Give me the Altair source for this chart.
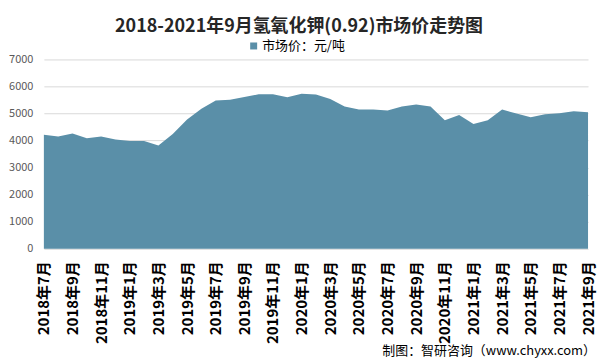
import altair as alt
import pandas as pd

months = [
    "2018年7月", "2018年8月", "2018年9月", "2018年10月", "2018年11月", "2018年12月",
    "2019年1月", "2019年2月", "2019年3月", "2019年4月", "2019年5月", "2019年6月",
    "2019年7月", "2019年8月", "2019年9月", "2019年10月", "2019年11月", "2019年12月",
    "2020年1月", "2020年2月", "2020年3月", "2020年4月", "2020年5月", "2020年6月",
    "2020年7月", "2020年8月", "2020年9月", "2020年10月", "2020年11月", "2020年12月",
    "2021年1月", "2021年2月", "2021年3月", "2021年4月", "2021年5月", "2021年6月",
    "2021年7月", "2021年8月", "2021年9月",
]
prices = [
    4220, 4150, 4260, 4090, 4150, 4040,
    3980, 3980, 3820, 4240, 4780, 5180,
    5480, 5510, 5610, 5710, 5710, 5600,
    5730, 5700, 5540, 5260, 5150, 5150,
    5110, 5260, 5330, 5260, 4750, 4950,
    4610, 4750, 5150, 5000, 4860, 4970,
    5010, 5080, 5050,
]
series_name = "市场价：元/吨"
tick_labels = months[::2]
y_ticks = [0, 1000, 2000, 3000, 4000, 5000, 6000, 7000]

df = pd.DataFrame({"month": months, "price": prices, "series": series_name})
footer = pd.DataFrame({"t": ["制图：智研咨询（www.chyxx.com）"]})

FONT = "Noto Sans CJK SC"

area = alt.Chart(df).mark_area(opacity=1).encode(
    x=alt.X(
        "month:O",
        sort=months,
        scale=alt.Scale(padding=0),
        axis=alt.Axis(
            title=None,
            values=tick_labels,
            labelAngle=270,
            labelAlign="right",
            labelBaseline="middle",
            labelFont=FONT,
            labelFontSize=15,
            labelFontWeight="bold",
            labelColor="#000000",
            labelPadding=12,
            ticks=False,
            domain=False,
            grid=False,
            labelOverlap=False,
        ),
    ),
    y=alt.Y(
        "price:Q",
        scale=alt.Scale(domain=[0, 7000], nice=False),
        axis=alt.Axis(
            title=None,
            values=y_ticks,
            format="d",
            labelFont=FONT,
            labelFontSize=11,
            labelColor="#595959",
            labelPadding=11,
            ticks=False,
            domain=False,
            grid=True,
            gridColor="#D9D9D9",
            gridWidth=1,
        ),
    ),
    color=alt.Color(
        "series:N",
        scale=alt.Scale(range=["#5A8FA8"]),
        legend=alt.Legend(
            title=None,
            orient="none",
            legendX=204,
            legendY=-20,
            symbolType="square",
            symbolSize=49,
            symbolOpacity=1,
            labelFont=FONT,
            labelFontSize=13,
            labelColor="#000000",
            labelOffset=2,
        ),
    ),
)

foot = alt.Chart(footer).mark_text(
    align="right", baseline="middle", font=FONT, fontSize=13, color="#000000"
).encode(text="t:N", x=alt.value(554), y=alt.value(293))

chart = alt.layer(area, foot).properties(
    width=546,
    height=190,
    autosize=alt.AutoSizeParams(type="none"),
    padding={"left": 36, "top": 51, "right": 9, "bottom": 114},
    title=alt.TitleParams(
        "2018-2021年9月氢氧化钾(0.92)市场价走势图",
        font=FONT,
        fontSize=18,
        fontWeight="bold",
        color="#262626",
        anchor="middle",
        dx=-17,
        dy=20,
        offset=24,
    ),
).configure_view(stroke=None)

chart.save("out.html", embed_options={"renderer": "svg", "actions": False})
